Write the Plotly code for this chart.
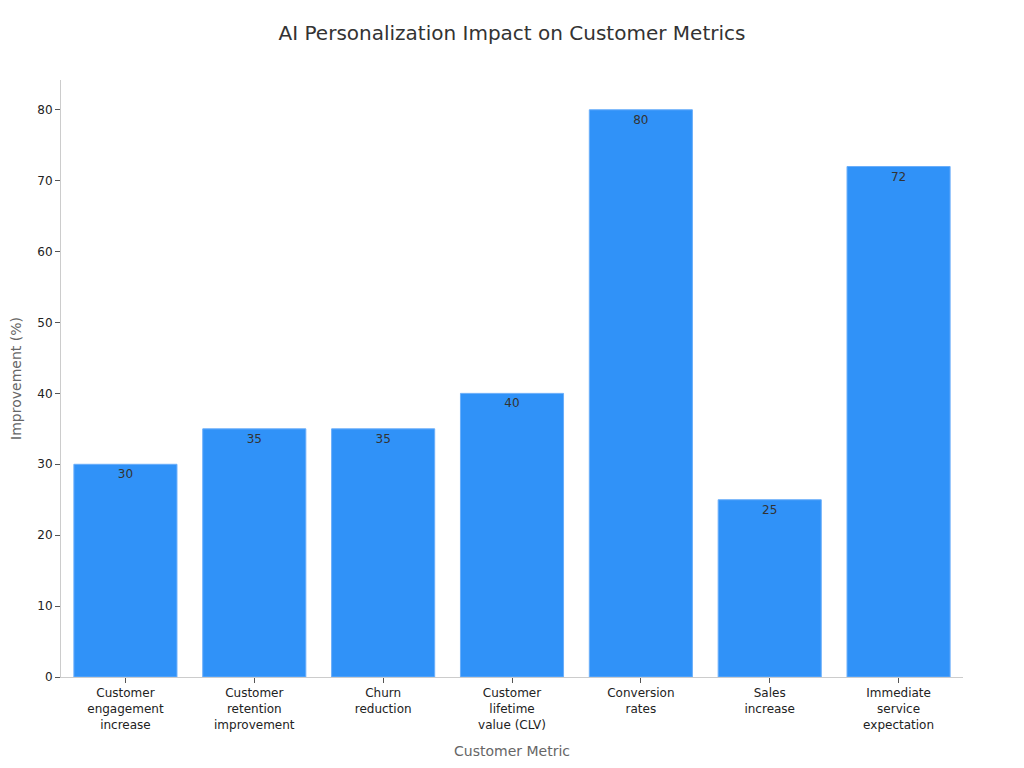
import plotly.graph_objects as go

categories = [
    "Customer<br>engagement<br>increase",
    "Customer<br>retention<br>improvement",
    "Churn<br>reduction",
    "Customer<br>lifetime<br>value (CLV)",
    "Conversion<br>rates",
    "Sales<br>increase",
    "Immediate<br>service<br>expectation",
]
values = [30, 35, 35, 40, 80, 25, 72]
y_ticks = [0, 10, 20, 30, 40, 50, 60, 70, 80]

fig = go.Figure(
    go.Bar(
        x=categories,
        y=values,
        text=[str(v) for v in values],
        textposition="inside",
        insidetextanchor="end",
        textfont=dict(family="DejaVu Sans", size=12, color="#333333"),
        marker=dict(color="#3092f8", line=dict(color="#6aaefa", width=1)),
        hoverinfo="skip",
    )
)

fig.update_layout(
    width=1024,
    height=768,
    autosize=False,
    paper_bgcolor="white",
    plot_bgcolor="white",
    font=dict(family="DejaVu Sans", size=12, color="#222222"),
    title=dict(
        text="AI Personalization Impact on Customer Metrics",
        x=504 / 1024,
        xanchor="center",
        y=1 - 25 / 768,
        yanchor="middle",
        font=dict(family="DejaVu Sans", size=20, color="#333333"),
    ),
    margin=dict(l=53, r=69, t=72, b=99, autoexpand=False),
    bargap=0.2,
    showlegend=False,
)

fig.update_xaxes(
    title=dict(text="Customer Metric", font=dict(size=14, color="#666666"), standoff=15),
    showline=True,
    linecolor="#cccccc",
    linewidth=1,
    ticks="outside",
    ticklen=5,
    tickcolor="#555555",
    tickfont=dict(size=12, color="#222222"),
    showgrid=False,
    zeroline=False,
    automargin=False,
)

fig.update_yaxes(
    title=dict(text="Improvement (%)", font=dict(size=14, color="#666666"), standoff=19),
    range=[0, 84.2],
    tickvals=y_ticks,
    showline=True,
    linecolor="#cccccc",
    linewidth=1,
    ticks="outside",
    ticklen=5,
    tickcolor="#555555",
    tickfont=dict(size=12, color="#222222"),
    showgrid=False,
    zeroline=False,
    automargin=False,
)

fig.write_html("out.html")
